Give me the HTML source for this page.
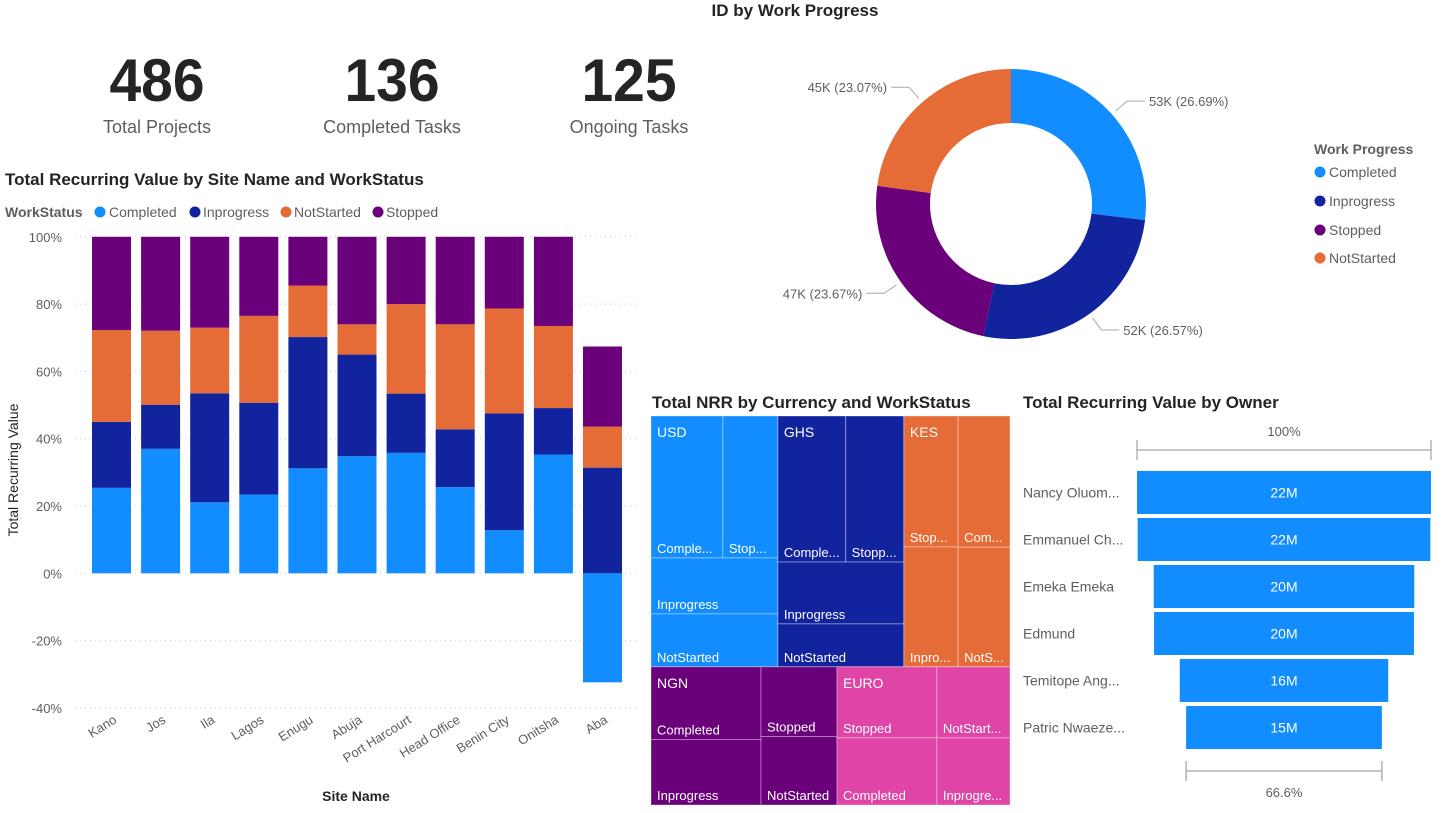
<!DOCTYPE html>
<html><head><meta charset="utf-8">
<style>
body{margin:0;background:#fff;width:1442px;height:808px;overflow:hidden;font-family:"Liberation Sans",sans-serif;}
svg text{font-family:"Liberation Sans",sans-serif;}
</style></head>
<body>
<svg id="dash" width="1442" height="808" xmlns="http://www.w3.org/2000/svg">
  <!-- KPI cards -->
  <g>
    <text x="157" y="101" text-anchor="middle" font-size="60" font-weight="bold" fill="#252423" transform="translate(157 0) scale(0.95 1) translate(-157 0)">486</text>
    <text x="157" y="133" text-anchor="middle" font-size="18" fill="#605e5c">Total Projects</text>
  </g>
  <g>
    <text x="392" y="101" text-anchor="middle" font-size="60" font-weight="bold" fill="#252423" transform="translate(392 0) scale(0.95 1) translate(-392 0)">136</text>
    <text x="392" y="133" text-anchor="middle" font-size="18" fill="#605e5c">Completed Tasks</text>
  </g>
  <g>
    <text x="629" y="101" text-anchor="middle" font-size="60" font-weight="bold" fill="#252423" transform="translate(629 0) scale(0.95 1) translate(-629 0)">125</text>
    <text x="629" y="133" text-anchor="middle" font-size="18" fill="#605e5c">Ongoing Tasks</text>
  </g>

  <!-- Bar chart -->
  <text x="5" y="185" font-size="17" font-weight="bold" fill="#252423">Total Recurring Value by Site Name and WorkStatus</text>
  <g font-size="14">
    <text x="5" y="217" font-weight="bold" fill="#605e5c">WorkStatus</text>
    <circle cx="100" cy="212" r="5.5" fill="#118DFF"/><text x="109" y="217" fill="#605e5c">Completed</text>
    <circle cx="195" cy="212" r="5.5" fill="#12239E"/><text x="203" y="217" fill="#605e5c">Inprogress</text>
    <circle cx="286" cy="212" r="5.5" fill="#E66C37"/><text x="294" y="217" fill="#605e5c">NotStarted</text>
    <circle cx="378" cy="212" r="5.5" fill="#6B007B"/><text x="386" y="217" fill="#605e5c">Stopped</text>
  </g>
  <g id="barchart"></g>
  <text transform="translate(18 470) rotate(-90)" text-anchor="middle" font-size="14" fill="#252423">Total Recurring Value</text>
  <text x="356" y="801" text-anchor="middle" font-size="14" font-weight="bold" fill="#252423">Site Name</text>

  <!-- Donut -->
  <text x="795" y="16" text-anchor="middle" font-size="17" font-weight="bold" fill="#252423">ID by Work Progress</text>
  <g id="donut"></g>
  <g font-size="14">
    <text x="1314" y="154" font-weight="bold" fill="#605e5c">Work Progress</text>
    <circle cx="1320" cy="172" r="5.5" fill="#118DFF"/><text x="1329" y="177" fill="#605e5c">Completed</text>
    <circle cx="1320" cy="201" r="5.5" fill="#12239E"/><text x="1329" y="206" fill="#605e5c">Inprogress</text>
    <circle cx="1320" cy="230" r="5.5" fill="#6B007B"/><text x="1329" y="235" fill="#605e5c">Stopped</text>
    <circle cx="1320" cy="258" r="5.5" fill="#E66C37"/><text x="1329" y="263" fill="#605e5c">NotStarted</text>
  </g>

  <!-- Treemap -->
  <text x="652" y="408" font-size="17" font-weight="bold" fill="#252423">Total NRR by Currency and WorkStatus</text>
  <g id="treemap"></g>

  <!-- Funnel -->
  <text x="1023" y="408" font-size="17" font-weight="bold" fill="#252423">Total Recurring Value by Owner</text>
  <g id="funnel"></g>
</svg>
<script>
const NS="http://www.w3.org/2000/svg";
function mk(tag,attrs,parent){const e=document.createElementNS(NS,tag);for(const k in attrs)e.setAttribute(k,attrs[k]);parent.appendChild(e);return e;}
const COLORS={Completed:"#118DFF",Inprogress:"#12239E",NotStarted:"#E66C37",Stopped:"#6B007B"};

// ---- Bar chart data (percent of total) ----
const sites=["Kano","Jos","Ila","Lagos","Enugu","Abuja","Port Harcourt","Head Office","Benin City","Onitsha","Aba"];
const completedPct=[25.4,37,21.1,23.4,31.2,34.8,35.8,25.6,12.8,35.3,-32.4];
const inprogressPct=[19.6,13.1,32.4,27.3,39,30.2,17.6,17.2,34.7,13.8,31.4];
const notStartedPct=[27.3,22,19.5,25.8,15.3,9,26.6,31.2,31.2,24.4,12.2];
const stoppedPct=[27.7,27.9,27,23.5,14.5,26,20,26,21.3,26.5,23.8];
const yTicks=[100,80,60,40,20,0,-20,-40];

(function(){
  const g=document.getElementById('barchart');
  const y=v=>573.3-v*3.365;
  const x0=75,x1=637,pitch=49.1,bw=39,first=92;
  yTicks.forEach(t=>{
    const l=mk('line',{x1:x0,x2:x1,y1:y(t),y2:y(t),stroke:"#c8c8c8","stroke-dasharray":"1,4"},g);
    
    
    const tx=mk('text',{x:62,y:y(t)+5,"text-anchor":"end","font-size":"13",fill:"#605e5c"},g);
    tx.textContent=t+"%";
    
    
  });
  const series=[["Completed",completedPct],["Inprogress",inprogressPct],["NotStarted",notStartedPct],["Stopped",stoppedPct]];
  sites.forEach((s,i)=>{
    const bx=first+i*pitch;
    let pos=0,neg=0;
    series.forEach(([name,arr])=>{
      const v=arr[i];let top,bot;
      if(v>=0){bot=pos;top=pos+v;pos=top;}else{top=neg;bot=neg+v;neg=bot;}
      const r=mk('rect',{x:bx,y:y(top),width:bw,height:y(bot)-y(top),fill:COLORS[name]},g);
      
      
    });
    const cx=bx+bw/2+6;
    const t=mk('text',{x:cx,y:722,"text-anchor":"end","font-size":"13",fill:"#605e5c",transform:`rotate(-32 ${cx} 722)`},g);
    t.textContent=s;
    
    
  });
})();

// ---- Donut data ----
const donutCats=["Completed","Inprogress","Stopped","NotStarted"];
const donutValues=[53,52,47,45];
const donutLabels=["53K (26.69%)","52K (26.57%)","47K (23.67%)","45K (23.07%)"];
(function(){
  const g=document.getElementById('donut');
  const cx=1011,cy=204,R=135,r=81;
  const tot=donutValues.reduce((a,b)=>a+b,0);
  let a=0;
  const pt=(ang,rad)=>[cx+rad*Math.sin(ang),cy-rad*Math.cos(ang)];
  donutCats.forEach((c,i)=>{
    const a0=a/tot*2*Math.PI;a+=donutValues[i];const a1=a/tot*2*Math.PI;
    const lg=a1-a0>Math.PI?1:0;
    const [x0,y0]=pt(a0,R),[x1,y1]=pt(a1,R),[x2,y2]=pt(a1,r),[x3,y3]=pt(a0,r);
    const p=mk('path',{d:`M${x0},${y0}A${R},${R} 0 ${lg} 1 ${x1},${y1}L${x2},${y2}A${r},${r} 0 ${lg} 0 ${x3},${y3}Z`,fill:COLORS[c]},g);
    
    
    const am=(a0+a1)/2;
    const [lx,ly]=pt(am,R+5),[mx,my]=pt(am,R+20);
    const right=Math.sin(am)>0;
    const ex=mx+(right?18:-18);
    const ln=mk('polyline',{points:`${lx},${ly} ${mx},${my} ${ex},${my}`,fill:"none",stroke:"#aaa","stroke-width":1},g);
    
    
    const t=mk('text',{x:ex+(right?4:-4),y:my+5,"text-anchor":right?"start":"end","font-size":"13",fill:"#605e5c"},g);
    t.textContent=donutLabels[i];
    
    
  });
})();

// ---- Treemap data ----
const currencies=["USD","GHS","KES","NGN","EURO"];
const currencyColors=["#118DFF","#12239E","#E66C37","#6B007B","#E044A7"];
const tmStatuses=[["Completed","Stopped","Inprogress","NotStarted"],["Completed","Stopped","Inprogress","NotStarted"],["Stopped","Inprogress","Completed","NotStarted"],["Completed","Inprogress","Stopped","NotStarted"],["Stopped","Completed","NotStarted","Inprogress"]];
const tmShort=[["Comple...","Stop...","Inprogress","NotStarted"],["Comple...","Stopp...","Inprogress","NotStarted"],["Stop...","Inpro...","Com...","NotS..."],["Completed","Inprogress","Stopped","NotStarted"],["Stopped","Completed","NotStart...","Inprogre..."]];
const tmValues=[[102,78,71,67],[99,85,78,54],[71,65,68,62],[80,72,53,52],[71,67,52,49]];
const tmLayout=["rows","rows","cols","cols","cols"];
(function(){
  const g=document.getElementById('treemap');
  const X=651,Y=416,W=359,H=389;
  const sums=tmValues.map(v=>v.reduce((a,b)=>a+b,0));
  const rowsDef=[[0,1,2],[3,4]];
  const total=sums.reduce((a,b)=>a+b,0);
  let yy=Y;
  rowsDef.forEach(row=>{
    const rs=row.reduce((a,i)=>a+sums[i],0);
    const rh=H*rs/total;let xx=X;
    row.forEach(ci=>{
      const gw=W*sums[ci]/rs;const v=tmValues[ci];const cells=[];
      if(tmLayout[ci]==="rows"){
        const h1=rh*(v[0]+v[1])/sums[ci];const w0=gw*v[0]/(v[0]+v[1]);
        cells.push([xx,yy,w0,h1],[xx+w0,yy,gw-w0,h1]);
        const h2=rh*v[2]/sums[ci];
        cells.push([xx,yy+h1,gw,h2],[xx,yy+h1+h2,gw,rh-h1-h2]);
      }else{
        const w1=gw*(v[0]+v[1])/sums[ci];const h0=rh*v[0]/(v[0]+v[1]);const h2=rh*v[2]/(v[2]+v[3]);
        cells.push([xx,yy,w1,h0],[xx,yy+h0,w1,rh-h0],[xx+w1,yy,gw-w1,h2],[xx+w1,yy+h2,gw-w1,rh-h2]);
      }
      cells.forEach((c,k)=>{
        const r=mk('rect',{x:c[0],y:c[1],width:c[2],height:c[3],fill:currencyColors[ci],stroke:"rgba(255,255,255,0.35)","stroke-width":1},g);
        
        
        const t=mk('text',{x:c[0]+6,y:c[1]+c[3]-5,"font-size":"13",fill:"#fff"},g);
        t.textContent=tmShort[ci][k];
        
        
      });
      const ht=mk('text',{x:xx+6,y:yy+21,"font-size":"14",fill:"#fff"},g);
      ht.textContent=currencies[ci];
      
      
      xx+=gw;
    });
    yy+=rh;
  });
})();

// ---- Funnel data ----
const owners=["Nancy Oluom...","Emmanuel Ch...","Emeka Emeka","Edmund","Temitope Ang...","Patric Nwaeze..."];
const ownerValues=[22.0,21.9,19.5,19.45,15.6,14.65];
const ownerLabels=["22M","22M","20M","20M","16M","15M"];
(function(){
  const g=document.getElementById('funnel');
  const cx=1284,maxW=294,top=471,pitch=47,bh=43;
  const mx=Math.max(...ownerValues);
  const wOf=v=>v/mx*maxW;
  owners.forEach((o,i)=>{
    const w=wOf(ownerValues[i]);const y=top+i*pitch;
    const r=mk('rect',{x:cx-w/2,y:y,width:w,height:bh,fill:"#118DFF"},g);
    
    
    const t=mk('text',{x:cx,y:y+bh/2+5,"text-anchor":"middle","font-size":"14",fill:"#fff"},g);
    t.textContent=ownerLabels[i];
    
    
    const l=mk('text',{x:1023,y:y+bh/2+5,"font-size":"14",fill:"#605e5c"},g);
    l.textContent=o;
    
    
  });
  function bracket(w,yl,label,ty){
    const a=cx-w/2,b=cx+w/2;
    const p=mk('path',{d:`M${a},${yl-10}V${yl+10}M${a},${yl}H${b}M${b},${yl-10}V${yl+10}`,stroke:"#b3b3b3","stroke-width":1.5,fill:"none"},g);
    
    
    const t=mk('text',{x:cx,y:ty,"text-anchor":"middle","font-size":"13",fill:"#605e5c"},g);
    t.textContent=label;
    
    
  }
  bracket(maxW,450,"100%",436);
  const last=ownerValues[ownerValues.length-1];
  bracket(wOf(last),771,(last/mx*100).toFixed(1)+"%",797);
})();
</script>
</body></html>
